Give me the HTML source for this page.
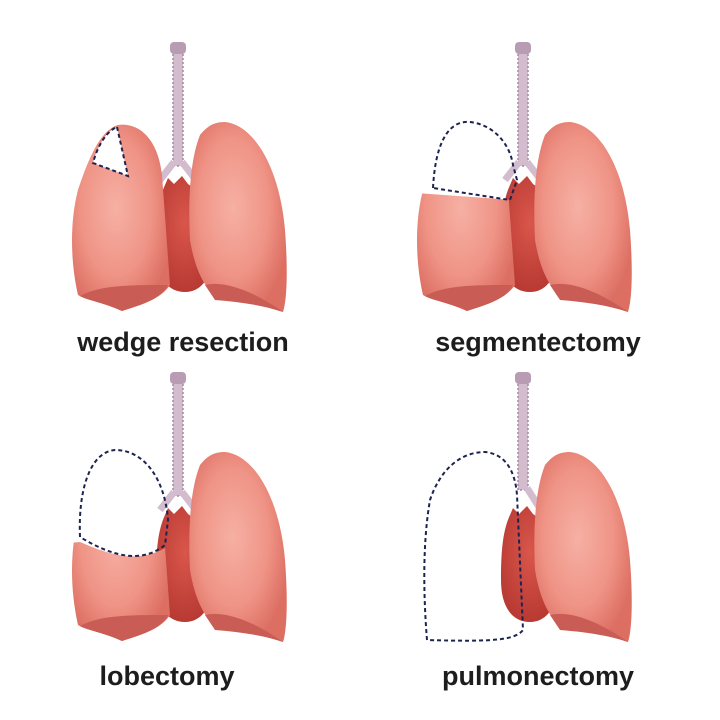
<!DOCTYPE html>
<html><head><style>
html,body{margin:0;padding:0;background:#fff;}
svg{display:block;}
text{font-family:"Liberation Sans","DejaVu Sans",sans-serif;font-weight:bold;font-size:27px;fill:#1d1d1d;text-anchor:middle;}
</style></head><body>
<svg width="720" height="720" viewBox="0 0 720 720" xmlns="http://www.w3.org/2000/svg">
<defs>
<radialGradient id="lg" cx="0.45" cy="0.45" r="0.6">
<stop offset="0" stop-color="#f6b0a4"/><stop offset="0.6" stop-color="#ef9486"/><stop offset="1" stop-color="#dc6e62"/>
</radialGradient>
<radialGradient id="hg" cx="0.5" cy="0.4" r="0.6">
<stop offset="0" stop-color="#d9564b"/><stop offset="1" stop-color="#b83a33"/>
</radialGradient>
<path id="LL" d="M118,125 C140,122 158,140 162,175 L170,285 C160,300 140,305 122,311 C102,302 86,300 78,295 C70,260 70,220 78,190 C88,160 100,130 118,125 Z"/>
<path id="RL" d="M225,122 C255,125 280,170 285,230 C288,270 287,300 283,312 C262,305 240,300 220,300 C205,290 195,270 190,240 C188,200 190,160 200,135 C208,125 215,122 225,122 Z"/>
<g id="trach">
<rect x="173" y="48" width="10" height="118" fill="#d4bccf" stroke="#a58aa0" stroke-width="1.5" stroke-dasharray="2 2"/>
<rect x="170" y="42" width="16" height="12" rx="4" fill="#b89cb3"/>
<path d="M174,162 L160,180 M182,162 L196,180" stroke="#d4bccf" stroke-width="7" fill="none"/>
</g>
<g id="heart">
<path d="M165,185 L168,178 L174,184 L182,176 L188,184 C205,195 215,220 214,250 C212,280 200,292 185,292 C168,292 156,278 156,250 C156,220 158,200 165,185 Z" fill="url(#hg)"/>
</g>
<g id="shadowR"><path d="M205,285 C225,280 255,292 283,312 C262,305 240,302 215,300 Z" fill="#c95d55"/></g>
<g id="shadowL"><path d="M80,296 C100,285 130,285 168,285 C160,300 140,305 122,311 C102,302 86,300 80,296 Z" fill="#c95d55"/></g>
<clipPath id="cSeg"><polygon points="0,188 170,200 170,330 0,330"/></clipPath>
<clipPath id="cLob"><path d="M0,205 C40,205 60,215 80,212 C110,225 140,235 170,215 L170,330 L0,330 Z"/></clipPath>
</defs>

<g>
<use href="#trach"/><use href="#heart"/>
<use href="#RL" fill="url(#lg)"/><use href="#shadowR"/>
<use href="#LL" fill="url(#lg)"/><use href="#shadowL"/>
<path d="M117,127 L128,176 L93,163 C97,148 105,132 117,127 Z" fill="#fff" stroke="#1d2350" stroke-width="2" stroke-dasharray="4 3"/>
<text x="183" y="351">wedge resection</text>
</g>

<g transform="translate(345,0)">
<use href="#trach"/><use href="#heart"/>
<use href="#RL" fill="url(#lg)"/><use href="#shadowR"/>
<g clip-path="url(#cSeg)"><use href="#LL" fill="url(#lg)"/><use href="#shadowL"/></g>
<path d="M88,188 C90,150 100,120 125,122 C150,125 165,145 168,165 L172,180 L165,200 L88,188" fill="none" stroke="#1d2350" stroke-width="2" stroke-dasharray="4 3"/>
<text x="193" y="351">segmentectomy</text>
</g>

<g transform="translate(0,330)">
<use href="#trach"/><use href="#heart"/>
<use href="#RL" fill="url(#lg)"/><use href="#shadowR"/>
<g clip-path="url(#cLob)"><use href="#LL" fill="url(#lg)"/><use href="#shadowL"/></g>
<path d="M80,207 C78,160 90,122 115,120 C145,120 165,150 168,190 L165,215 C140,235 110,225 80,207" fill="none" stroke="#1d2350" stroke-width="2" stroke-dasharray="4 3"/>
<text x="167" y="355">lobectomy</text>
</g>

<g transform="translate(345,330)">
<rect x="173" y="48" width="10" height="112" fill="#d4bccf" stroke="#a58aa0" stroke-width="1.5" stroke-dasharray="2 2"/>
<rect x="170" y="42" width="16" height="12" rx="4" fill="#b89cb3"/>
<path d="M182,158 L196,180" stroke="#d4bccf" stroke-width="7" fill="none"/>
<use href="#heart"/>
<use href="#RL" fill="url(#lg)"/><use href="#shadowR"/>
<path d="M82,310 C78,260 78,210 85,170 C95,140 115,122 140,122 C160,124 170,140 172,165 L178,300 C170,310 150,312 82,310 Z" fill="none" stroke="#1d2350" stroke-width="2" stroke-dasharray="4 3"/>
<text x="193" y="355">pulmonectomy</text>
</g>
</svg>
</body></html>
